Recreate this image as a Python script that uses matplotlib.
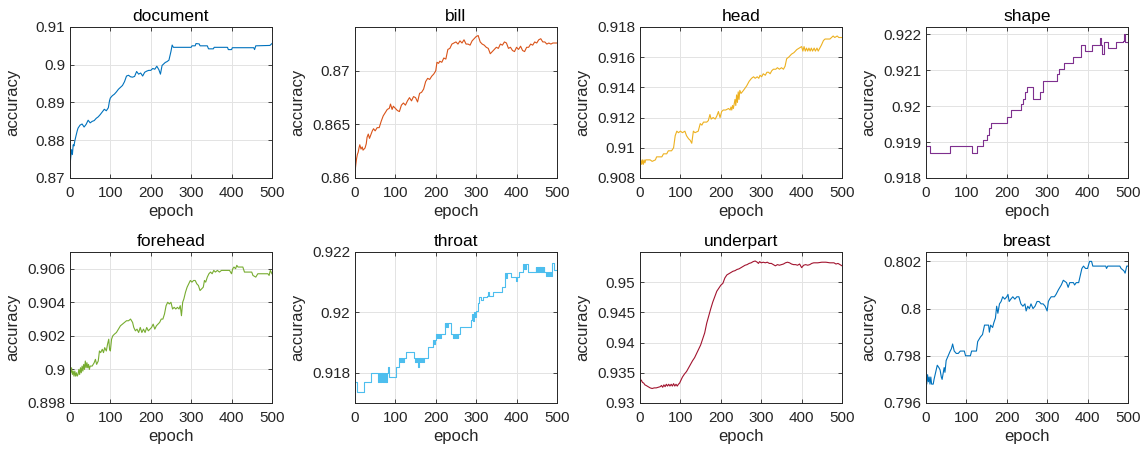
import matplotlib
matplotlib.use("Agg")
import matplotlib.pyplot as plt
import numpy as np

plt.rcParams['font.family'] = ['Liberation Sans', 'DejaVu Sans']

# (epoch, accuracy)
document = [
    (0, .8732), (2, .8755), (4, .8775), (6, .8762), (8, .8788), (10, .8785), (12, .8798),
    (15, .8812), (18, .8825), (20, .8832), (25, .8840), (30, .8843), (35, .8835), (40, .8842),
    (45, .8853), (50, .8846), (55, .8850), (60, .8852), (65, .8858), (70, .8862), (75, .8868),
    (80, .8875), (85, .8882), (90, .8878), (95, .8886), (98, .8905), (100, .8912), (105, .8918),
    (110, .8922), (115, .8928), (120, .8935), (125, .8940), (130, .8945), (135, .8955),
    (140, .8970), (145, .8972), (150, .8968), (155, .8967), (160, .8969), (165, .8982),
    (170, .8975), (175, .8978), (180, .8970), (185, .8980), (190, .8983), (195, .8985),
    (200, .8985), (205, .8990), (210, .8988), (215, .8996), (220, .8987), (224, .8975),
    (228, .8998), (232, .9002), (236, .9006), (240, .9008), (245, .9012), (250, .9035),
    (253, .9052), (256, .9046), (300, .9046), (302, .9050), (310, .9050), (312, .9056),
    (320, .9055), (322, .9050), (340, .9050), (343, .9042), (355, .9042), (357, .9046),
    (390, .9046), (392, .9040), (400, .9040), (402, .9045), (455, .9045), (457, .9040),
    (460, .9050), (495, .9051), (500, .9056),
]

bill = [
    (0, .8605), (2, .8612), (4, .8618), (6, .8622), (8, .8624), (10, .8628), (12, .8631),
    (15, .8627), (18, .8629), (20, .8626), (25, .8628), (28, .8632), (30, .8638), (33, .8641),
    (36, .8637), (40, .8641), (43, .8644), (46, .8646), (50, .8644), (55, .8647), (60, .8647),
    (65, .8653), (70, .8658), (75, .8661), (80, .8664), (85, .8665), (88, .8669), (92, .8664),
    (95, .8667), (100, .8665), (105, .8663), (110, .8662), (115, .8668), (120, .8670),
    (125, .8668), (130, .8672), (135, .8675), (140, .8672), (145, .8676), (150, .8675),
    (155, .8671), (160, .8679), (165, .8680), (170, .8683), (175, .8690), (180, .8693),
    (185, .8692), (190, .8695), (195, .8697), (200, .8700), (203, .8708), (207, .8707),
    (210, .8709), (215, .8708), (220, .8712), (225, .8711), (230, .8720), (235, .8721),
    (240, .8725), (245, .8726), (250, .8727), (255, .8725), (260, .8728), (265, .8726),
    (270, .8729), (275, .8725), (280, .8725), (285, .8724), (290, .8728), (295, .8730),
    (300, .8732), (305, .8733), (310, .8727), (315, .8725), (320, .8724), (325, .8722),
    (330, .8721), (335, .8716), (340, .8718), (345, .8720), (350, .8722), (355, .8721),
    (360, .8725), (365, .8724), (370, .8727), (375, .8726), (380, .8721), (385, .8722),
    (390, .8719), (395, .8718), (400, .8722), (405, .8720), (410, .8723), (415, .8719),
    (420, .8718), (425, .8722), (430, .8722), (435, .8725), (440, .8724), (445, .8727),
    (450, .8726), (455, .8729), (460, .8730), (465, .8727), (470, .8727), (475, .8725),
    (480, .8726), (485, .8725), (490, .8726), (495, .8726), (500, .8726),
]

head = [
    (0, .9089), (2, .9092), (4, .9089), (6, .9092), (8, .9089), (10, .9092), (12, .9090),
    (14, .9092), (16, .9092), (25, .9092), (30, .9091), (38, .9092), (41, .9094), (54, .9094),
    (58, .9096), (66, .9096), (70, .9098), (78, .9098), (83, .9100), (87, .9108), (91, .9111),
    (95, .9110), (100, .9111), (105, .9110), (111, .9111), (115, .9108), (120, .9106),
    (124, .9105), (128, .9103), (132, .9111), (136, .9110), (144, .9111), (149, .9116),
    (153, .9115), (157, .9117), (165, .9117), (169, .9118), (173, .9122), (176, .9119),
    (181, .9120), (186, .9119), (190, .9121), (194, .9124), (198, .9120), (202, .9124),
    (206, .9125), (212, .9125), (219, .9126), (223, .9125), (225, .9127), (227, .9125),
    (229, .9128), (231, .9126), (235, .9132), (237, .9128), (239, .9135), (241, .9130),
    (243, .9137), (245, .9132), (247, .9138), (250, .9136), (256, .9138), (264, .9141),
    (270, .9144), (276, .9146), (281, .9147), (285, .9146), (290, .9147), (294, .9146),
    (297, .9148), (301, .9147), (305, .9149), (310, .9148), (314, .9150), (318, .9150),
    (322, .9149), (326, .9151), (330, .9152), (336, .9152), (340, .9153), (345, .9152),
    (350, .9153), (355, .9152), (359, .9154), (363, .9159), (368, .9160), (375, .9162),
    (381, .9163), (388, .9165), (394, .9166), (400, .9167), (403, .9164), (406, .9167),
    (409, .9164), (412, .9166), (415, .9164), (418, .9166), (421, .9164), (424, .9166),
    (427, .9164), (431, .9166), (434, .9164), (438, .9166), (441, .9164), (445, .9166),
    (449, .9168), (454, .9171), (458, .9172), (470, .9172), (474, .9173), (478, .9174),
    (482, .9173), (488, .9174), (492, .9173), (500, .9173),
]

shape = [
    (0, .91889), (9, .91870), (60, .91889), (113, .91870), (127, .91889), (140, .91905),
    (150, .91920), (155, .91940), (160, .91954), (200, .91970), (210, .91988), (235, .92005),
    (240, .92020), (245, .92040), (250, .92053), (266, .92020), (282, .92040), (290, .92070),
    (325, .92090), (330, .92104), (342, .92120), (365, .92136), (385, .92170), (393, .92153),
    (410, .92170), (430, .92190), (433, .92170), (437, .92145), (440, .92178), (450, .92162),
    (470, .92178), (488, .92182), (490, .92200), (493, .92178), (500, .92175),
]

forehead = [
    (0, .9000), (2, .8998), (4, .9001), (6, .8997), (8, .8999), (10, .8996), (12, .8999),
    (14, .8996), (16, .8998), (18, .8996), (20, .8997), (22, .9000), (24, .8997), (26, .9001),
    (28, .8998), (30, .9002), (32, .8999), (34, .9003), (36, .9000), (38, .9005), (40, .9001),
    (42, .9004), (44, .9001), (46, .9003), (48, .9000), (50, .9002), (55, .9002), (60, .9004),
    (63, .9006), (66, .9003), (70, .9005), (73, .9011), (76, .9010), (80, .9012), (83, .9010),
    (86, .9013), (90, .9011), (93, .9015), (96, .9018), (98, .9012), (100, .9011), (103, .9018),
    (106, .9020), (110, .9021), (115, .9022), (120, .9024), (125, .9026), (130, .9027),
    (135, .9028), (140, .9029), (145, .9029), (150, .9030), (155, .9028), (158, .9025),
    (162, .9023), (166, .9024), (170, .9022), (174, .9025), (178, .9022), (182, .9024),
    (186, .9022), (190, .9025), (194, .9023), (198, .9024), (202, .9025), (206, .9027),
    (210, .9024), (214, .9026), (218, .9027), (222, .9028), (226, .9030), (230, .9030),
    (234, .9033), (238, .9038), (242, .9040), (246, .9039), (250, .9040), (254, .9036),
    (258, .9037), (262, .9036), (266, .9037), (270, .9036), (273, .9038), (276, .9032),
    (279, .9040), (282, .9042), (286, .9046), (290, .9049), (294, .9051), (298, .9053),
    (302, .9052), (306, .9053), (310, .9053), (314, .9051), (318, .9050), (322, .9047),
    (326, .9048), (330, .9049), (333, .9053), (336, .9052), (340, .9055), (344, .9057),
    (348, .9058), (352, .9057), (356, .9059), (360, .9058), (365, .9059), (370, .9058),
    (375, .9059), (380, .9059), (390, .9059), (395, .9059), (400, .9057), (403, .9060),
    (406, .9061), (410, .9060), (413, .9062), (416, .9061), (420, .9061), (428, .9061),
    (432, .9058), (450, .9058), (453, .9056), (460, .9055), (465, .9057), (490, .9057),
    (493, .9056), (496, .9059), (500, .9057),
]

throat = [
    (0, .91771), (4, .91737), (22, .91770), (40, .91800), (58, .91770), (60, .91800),
    (62, .91770), (64, .91800), (66, .91770), (68, .91800), (70, .91770), (72, .91800),
    (74, .91770), (76, .91800), (78, .91770), (80, .91800), (82, .91820), (85, .91787),
    (102, .91820), (110, .91850), (112, .91835), (114, .91850), (116, .91835), (118, .91850),
    (120, .91835), (122, .91850), (126, .91870), (146, .91850), (148, .91835), (150, .91850),
    (152, .91835), (154, .91850), (156, .91820), (158, .91850), (160, .91835), (162, .91850),
    (164, .91835), (166, .91850), (168, .91835), (172, .91850), (180, .91885), (193, .91910),
    (195, .91895), (197, .91910), (200, .91930), (202, .91915), (204, .91930), (206, .91915),
    (208, .91930), (210, .91915), (212, .91930), (222, .91965), (224, .91950), (226, .91965),
    (228, .91950), (230, .91965), (238, .91930), (242, .91915), (244, .91930), (246, .91915),
    (248, .91930), (250, .91915), (252, .91930), (254, .91915), (256, .91930), (260, .91952),
    (288, .91975), (290, .91995), (292, .91970), (294, .92000), (296, .91985), (300, .92005),
    (304, .92030), (308, .92050), (312, .92040), (318, .92050), (328, .92053), (330, .92067),
    (332, .92053), (342, .92067), (363, .92083), (372, .92130), (374, .92115), (376, .92130),
    (386, .92117), (398, .92105), (400, .92117), (406, .92133), (416, .92160), (418, .92145),
    (420, .92160), (422, .92145), (424, .92160), (428, .92133), (447, .92150), (449, .92133),
    (451, .92150), (453, .92133), (455, .92150), (457, .92133), (459, .92150), (461, .92133),
    (463, .92150), (465, .92133), (467, .92150), (469, .92133), (474, .92120), (476, .92133),
    (478, .92120), (480, .92133), (482, .92120), (484, .92133), (486, .92120), (488, .92165),
    (492, .92140), (500, .92140),
]

underpart = [
    (0, .9336), (3, .9338), (6, .9334), (9, .9333), (12, .9330), (15, .9329), (20, .9327),
    (25, .9325), (30, .9324), (35, .9325), (40, .9325), (45, .9326), (50, .9327), (53, .9329),
    (56, .9326), (59, .9330), (62, .9327), (65, .9331), (68, .9328), (71, .9331), (74, .9328),
    (77, .9331), (80, .9328), (83, .9332), (86, .9328), (89, .9331), (92, .9328), (95, .9331),
    (98, .9333), (100, .9336), (105, .9343), (110, .9348), (115, .9352), (120, .9358),
    (125, .9364), (130, .9370), (135, .9375), (140, .9382), (145, .9389), (150, .9396),
    (155, .9406), (160, .9416), (165, .9432), (170, .9444), (175, .9456), (180, .9467),
    (185, .9476), (190, .9485), (195, .9490), (200, .9495), (205, .9498), (210, .9507),
    (215, .9512), (220, .9514), (225, .9516), (230, .9518), (235, .9519), (240, .9521),
    (245, .9522), (250, .9524), (255, .9526), (260, .9528), (265, .9529), (270, .9531),
    (275, .9532), (280, .9534), (285, .9535), (290, .9533), (293, .9531), (296, .9534),
    (300, .9532), (305, .9533), (310, .9532), (315, .9533), (320, .9531), (325, .9531),
    (330, .9529), (335, .9527), (340, .9529), (345, .9528), (350, .9529), (355, .9530),
    (360, .9532), (365, .9533), (370, .9532), (375, .9530), (380, .9529), (385, .9529),
    (390, .9528), (395, .9530), (400, .9524), (405, .9528), (410, .9529), (415, .9528),
    (420, .9529), (425, .9531), (430, .9532), (440, .9532), (450, .9533), (460, .9533),
    (470, .9532), (480, .9532), (485, .9530), (490, .9531), (495, .9529), (500, .9527),
]

breast = [
    (0, .7971), (2, .7968), (4, .7972), (6, .7969), (8, .7971), (10, .7968), (12, .7971),
    (14, .7968), (18, .7968), (20, .7970), (24, .7973), (28, .7976), (32, .7975), (35, .7974),
    (38, .7971), (40, .7970), (43, .7973), (45, .7975), (47, .7973), (50, .7978), (55, .7980),
    (60, .7982), (63, .7983), (66, .7985), (70, .7982), (75, .7981), (80, .7981), (85, .7982),
    (95, .7982), (98, .7980), (110, .7980), (113, .7982), (125, .7982), (128, .7986),
    (135, .7988), (140, .7989), (145, .7993), (155, .7993), (157, .7990), (160, .7993),
    (165, .7992), (168, .7994), (172, .7996), (175, .8001), (178, .7998), (182, .8002),
    (186, .8003), (190, .8005), (195, .8004), (200, .8005), (203, .8006), (206, .8003),
    (210, .8004), (215, .8005), (220, .8004), (225, .8005), (230, .8005), (235, .8002),
    (240, .8001), (245, .8002), (248, .7999), (252, .8001), (256, .8000), (260, .8002),
    (265, .8000), (270, .8001), (275, .8003), (280, .8003), (285, .8002), (290, .8002),
    (295, .8001), (300, .7999), (303, .8003), (306, .8004), (310, .8005), (318, .8005),
    (322, .8006), (328, .8008), (335, .8010), (340, .8012), (348, .8011), (352, .8009),
    (356, .8011), (365, .8011), (368, .8010), (372, .8011), (378, .8011), (382, .8014),
    (386, .8017), (390, .8018), (395, .8017), (400, .8017), (405, .8020), (410, .8020),
    (413, .8018), (445, .8018), (447, .8017), (450, .8018), (480, .8018), (483, .8017),
    (490, .8016), (493, .8015), (497, .8018), (500, .8018),
]

titles = ["document", "bill", "head", "shape", "forehead", "throat", "underpart", "breast"]
series = [document, bill, head, shape, forehead, throat, underpart, breast]
colors = ["#0072BD", "#D95319", "#EDB120", "#7E2F8E", "#77AC30", "#4DBEEE", "#A2142F", "#0072BD"]
stepped = [False, False, False, True, False, True, False, False]
ylims = [(0.87, 0.91), (0.86, 0.8741), (0.908, 0.918), (0.918, 0.9222),
         (0.898, 0.907), (0.917, 0.922), (0.93, 0.955), (0.796, 0.8024)]
yticks = [
    [0.87, 0.88, 0.89, 0.9, 0.91],
    [0.86, 0.865, 0.87],
    [0.908, 0.91, 0.912, 0.914, 0.916, 0.918],
    [0.918, 0.919, 0.92, 0.921, 0.922],
    [0.898, 0.9, 0.902, 0.904, 0.906],
    [0.918, 0.92, 0.922],
    [0.93, 0.935, 0.94, 0.945, 0.95],
    [0.796, 0.798, 0.8, 0.802],
]
ytick_labels = [
    ["0.87", "0.88", "0.89", "0.9", "0.91"],
    ["0.86", "0.865", "0.87"],
    ["0.908", "0.91", "0.912", "0.914", "0.916", "0.918"],
    ["0.918", "0.919", "0.92", "0.921", "0.922"],
    ["0.898", "0.9", "0.902", "0.904", "0.906"],
    ["0.918", "0.92", "0.922"],
    ["0.93", "0.935", "0.94", "0.945", "0.95"],
    ["0.796", "0.798", "0.8", "0.802"],
]
xticks = [0, 100, 200, 300, 400, 500]

fig = plt.figure(figsize=(11.45, 4.55), dpi=100)
lefts = [0.0611, 0.3100, 0.5590, 0.8087]
bottoms = [0.6088, 0.1143]
w, h = 0.1764, 0.332
dark = "#262626"

for i, (name, data) in enumerate(zip(titles, series)):
    ax = fig.add_axes([lefts[i % 4], bottoms[i // 4], w, h])
    x = np.array([p[0] for p in data])
    y = np.array([p[1] for p in data])
    if stepped[i]:
        ax.step(x, y, where="post", color=colors[i], lw=0.8)
    else:
        ax.plot(x, y, color=colors[i], lw=0.8)

    ax.set_xlim(0, 500)
    ax.set_ylim(*ylims[i])
    ax.set_xticks(xticks)
    ax.set_yticks(yticks[i])
    ax.set_yticklabels(ytick_labels[i])
    ax.grid(True, color="#e3e3e3", lw=0.7)
    ax.set_axisbelow(True)
    for s in ax.spines.values():
        s.set_color(dark)
        s.set_linewidth(0.7)
    ax.tick_params(direction="in", length=3, width=0.6, top=True, right=True,
                   colors=dark, labelsize=11)
    ax.tick_params(axis="x", pad=5.5)
    ax.tick_params(axis="y", pad=3.5)

    ax.set_title(name, fontsize=12.5, color="black", pad=4)
    ax.set_xlabel("epoch", fontsize=12, color=dark)
    ax.set_ylabel("accuracy", fontsize=12, color=dark)
    ax.xaxis.set_label_coords(0.5, -0.175)
    ax.yaxis.set_label_coords(-0.2475, 0.5)

fig.savefig("out.png", dpi=100)
